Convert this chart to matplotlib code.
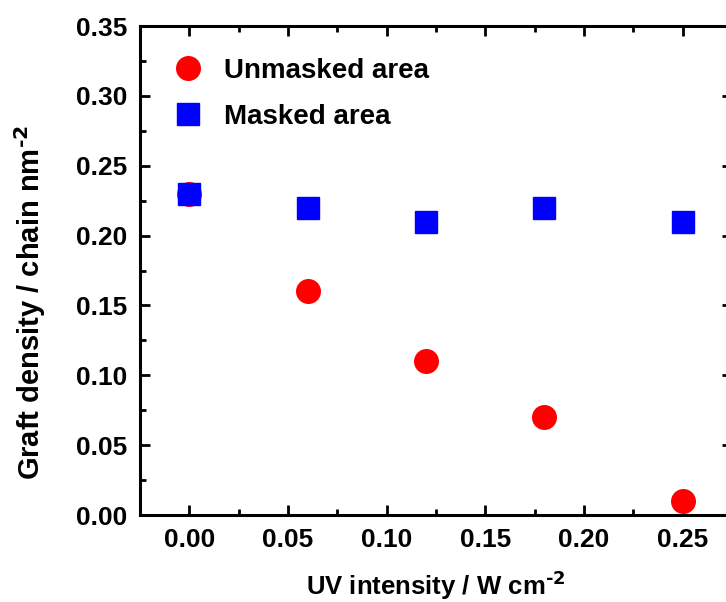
import matplotlib
matplotlib.use("Agg")
import matplotlib.pyplot as plt
from matplotlib.ticker import MultipleLocator, FormatStrFormatter

plt.rcParams['font.family'] = ['Liberation Sans', 'DejaVu Sans']
plt.rcParams['font.weight'] = 'bold'
plt.rcParams['mathtext.default'] = 'bf'

uv = [0.0, 0.06, 0.12, 0.18, 0.25]
unmasked = [0.23, 0.16, 0.11, 0.07, 0.01]
masked = [0.23, 0.22, 0.21, 0.22, 0.21]

fig = plt.figure(figsize=(7.26, 6.02), dpi=100)
ax = fig.add_axes([0.1928, 0.1445, 0.8154, 0.8123])

ax.plot(uv, unmasked, 'o', color='#ff0000', markersize=18, markeredgewidth=0,
        label='Unmasked area', zorder=3)
ax.plot(uv, masked, 's', color='#0000ff', markersize=15.5, markeredgewidth=1,
        markeredgecolor='#0000ff', markerfacecolor='#0000ff', label='Masked area',
        zorder=4)

ax.set_xlim(-0.025, 0.275)
ax.set_ylim(0, 0.35)
ax.xaxis.set_major_locator(MultipleLocator(0.05))
ax.xaxis.set_minor_locator(MultipleLocator(0.025))
ax.yaxis.set_major_locator(MultipleLocator(0.05))
ax.yaxis.set_minor_locator(MultipleLocator(0.025))
ax.xaxis.set_major_formatter(FormatStrFormatter('%.2f'))
ax.yaxis.set_major_formatter(FormatStrFormatter('%.2f'))

for s in ax.spines.values():
    s.set_linewidth(2.2)
ax.tick_params(which='both', direction='in', top=True, right=True,
               labelsize=19, width=2.0)
ax.tick_params(which='major', length=7, pad=9)
ax.tick_params(which='minor', length=4)

ax.set_xlabel('UV intensity / W cm$^{\\text{-2}}$', fontsize=18.5, fontweight='bold', labelpad=12)
ax.set_ylabel('Graft density / chain nm$^{\\text{-2}}$', fontsize=21, fontweight='bold')
ax.yaxis.set_label_coords(-0.155, 0.434)

ax.legend(loc='upper left', frameon=False, fontsize=20, handletextpad=0.3,
          labelspacing=0.72, borderaxespad=0.25, bbox_to_anchor=(0.003, 0.972),
          markerscale=1.0)

fig.savefig('out.png', dpi=100)
